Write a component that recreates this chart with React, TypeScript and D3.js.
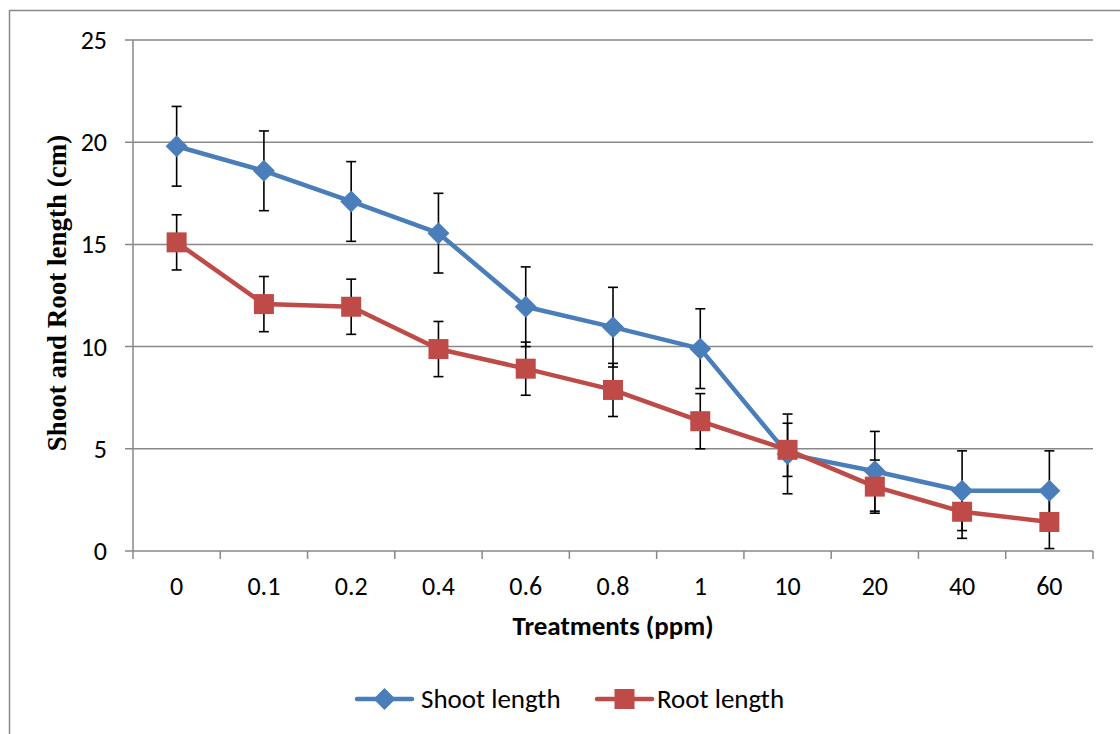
import React, { useEffect, useRef } from 'react';
import * as d3 from 'd3';

const treatments = ['0', '0.1', '0.2', '0.4', '0.6', '0.8', '1', '10', '20', '40', '60'];
const shootLength = [19.8, 18.6, 17.1, 15.55, 11.95, 10.95, 9.9, 4.75, 3.9, 2.95, 2.95];
const shootError = [1.95, 1.95, 1.95, 1.95, 1.95, 1.95, 1.95, 1.95, 1.95, 1.95, 1.95];
const rootLength = [15.1, 12.08, 11.95, 9.88, 8.92, 7.88, 6.35, 4.95, 3.15, 1.92, 1.42];
const rootError = [1.35, 1.35, 1.35, 1.35, 1.3, 1.3, 1.35, 1.3, 1.3, 1.3, 1.3];
const yTicks = [0, 5, 10, 15, 20, 25];

const WIDTH = 1120;
const HEIGHT = 734;

const App = () => {
    const svgRef = useRef(null);

    useEffect(() => {
        const svg = d3.select(svgRef.current);
        svg.selectAll('*').remove();

        const margin = { top: 40, right: 27, bottom: 183, left: 133 };
        const x = d3
            .scaleBand()
            .domain(treatments)
            .range([margin.left, WIDTH - margin.right]);
        const y = d3
            .scaleLinear()
            .domain([0, 25])
            .range([HEIGHT - margin.bottom, margin.top]);

        const gray = '#888888';
        const tickFont = 'Carlito, Calibri, "Liberation Sans", Arial, sans-serif';

        // outer chart frame (runs off the right and bottom edges)
        svg.append('rect')
            .attr('x', 9.5)
            .attr('y', 10.5)
            .attr('width', WIDTH + 20)
            .attr('height', HEIGHT + 20)
            .attr('fill', 'white')
            .attr('stroke', gray)
            .attr('stroke-width', 1.5);

        // gridlines + y ticks
        svg.append('g')
            .selectAll('line')
            .data(yTicks)
            .enter()
            .append('line')
            .attr('x1', margin.left - 8)
            .attr('x2', WIDTH - margin.right)
            .attr('y1', d => y(d))
            .attr('y2', d => y(d))
            .attr('stroke', gray)
            .attr('stroke-width', 1.5);

        svg.append('g')
            .selectAll('text')
            .data(yTicks)
            .enter()
            .append('text')
            .attr('x', margin.left - 26)
            .attr('y', d => y(d) + 9)
            .attr('text-anchor', 'end')
            .style('font-family', tickFont)
            .style('font-size', '26px')
            .style('fill', '#000')
            .text(d => d);

        // y axis line
        svg.append('line')
            .attr('x1', margin.left)
            .attr('x2', margin.left)
            .attr('y1', y(25))
            .attr('y2', y(0))
            .attr('stroke', gray)
            .attr('stroke-width', 1.5);

        // x ticks at band boundaries
        const boundaries = treatments.map(t => x(t)).concat([x(treatments[treatments.length - 1]) + x.bandwidth()]);
        svg.append('g')
            .selectAll('line')
            .data(boundaries)
            .enter()
            .append('line')
            .attr('x1', d => d)
            .attr('x2', d => d)
            .attr('y1', y(0))
            .attr('y2', y(0) + 8)
            .attr('stroke', gray)
            .attr('stroke-width', 1.5);

        svg.append('g')
            .selectAll('text')
            .data(treatments)
            .enter()
            .append('text')
            .attr('x', d => x(d) + x.bandwidth() / 2)
            .attr('y', 595)
            .attr('text-anchor', 'middle')
            .style('font-family', tickFont)
            .style('font-size', '26px')
            .style('fill', '#000')
            .text(d => d);

        // axis titles
        svg.append('text')
            .attr('x', x.range()[0] + (x.range()[1] - x.range()[0]) / 2)
            .attr('y', 635)
            .attr('text-anchor', 'middle')
            .style('font-family', tickFont)
            .style('font-size', '27px')
            .style('font-weight', 'bold')
            .text('Treatments (ppm)');

        svg.append('text')
            .attr('transform', `translate(66,293) rotate(-90)`)
            .attr('text-anchor', 'middle')
            .style('font-family', '"Liberation Serif", "Times New Roman", serif')
            .style('font-size', '27px')
            .style('font-weight', 'bold')
            .text('Shoot and Root length (cm)');

        const cx = d => x(d) + x.bandwidth() / 2;
        const series = [
            { name: 'Shoot length', values: shootLength, errors: shootError, color: '#4A7EBB', shape: 'diamond' },
            { name: 'Root length', values: rootLength, errors: rootError, color: '#BE4B48', shape: 'square' },
        ];

        const drawMarker = (g, shape, px, py, color) => {
            if (shape === 'diamond') {
                g.append('path')
                    .attr('d', `M${px},${py - 11}L${px + 11},${py}L${px},${py + 11}L${px - 11},${py}Z`)
                    .attr('fill', color);
            } else {
                g.append('rect')
                    .attr('x', px - 10)
                    .attr('y', py - 10)
                    .attr('width', 20)
                    .attr('height', 20)
                    .attr('fill', color);
            }
        };

        // error bars
        series.forEach(s => {
            const eg = svg.append('g');
            treatments.forEach((t, i) => {
                const px = cx(t);
                const top = y(s.values[i] + s.errors[i]);
                const bot = y(s.values[i] - s.errors[i]);
                eg.append('line').attr('x1', px).attr('x2', px).attr('y1', top).attr('y2', bot)
                    .attr('stroke', '#000').attr('stroke-width', 1.6);
                [top, bot].forEach(v => {
                    eg.append('line').attr('x1', px - 5).attr('x2', px + 5).attr('y1', v).attr('y2', v)
                        .attr('stroke', '#000').attr('stroke-width', 1.6);
                });
            });
        });

        // lines + markers
        const line = d3
            .line()
            .x((d, i) => cx(treatments[i]))
            .y(d => y(d));

        series.forEach(s => {
            const sg = svg.append('g');
            sg.append('path')
                .datum(s.values)
                .attr('fill', 'none')
                .attr('stroke', s.color)
                .attr('stroke-width', 4.5)
                .attr('stroke-linejoin', 'round')
                .attr('d', line);
            s.values.forEach((v, i) => drawMarker(sg, s.shape, cx(treatments[i]), y(v), s.color));
        });

        // legend
        const legendItems = [
            { x: 357, textX: 421 },
            { x: 597, textX: 657 },
        ];
        series.forEach((s, i) => {
            const lg = svg.append('g');
            const lx = legendItems[i].x;
            lg.append('line')
                .attr('x1', lx).attr('x2', lx + 55)
                .attr('y1', 699).attr('y2', 699)
                .attr('stroke', s.color).attr('stroke-width', 4.5).attr('stroke-linecap', 'round');
            drawMarker(lg, s.shape, lx + 27.5, 699, s.color);
            lg.append('text')
                .attr('x', legendItems[i].textX)
                .attr('y', 708)
                .style('font-family', tickFont)
                .style('font-size', '27px')
                .text(s.name);
        });
    }, []);

    return (
        <svg
            ref={svgRef}
            width={WIDTH}
            height={HEIGHT}
            style={{ position: 'fixed', left: 0, top: 0, background: 'white' }}
        ></svg>
    );
};

export default App;
